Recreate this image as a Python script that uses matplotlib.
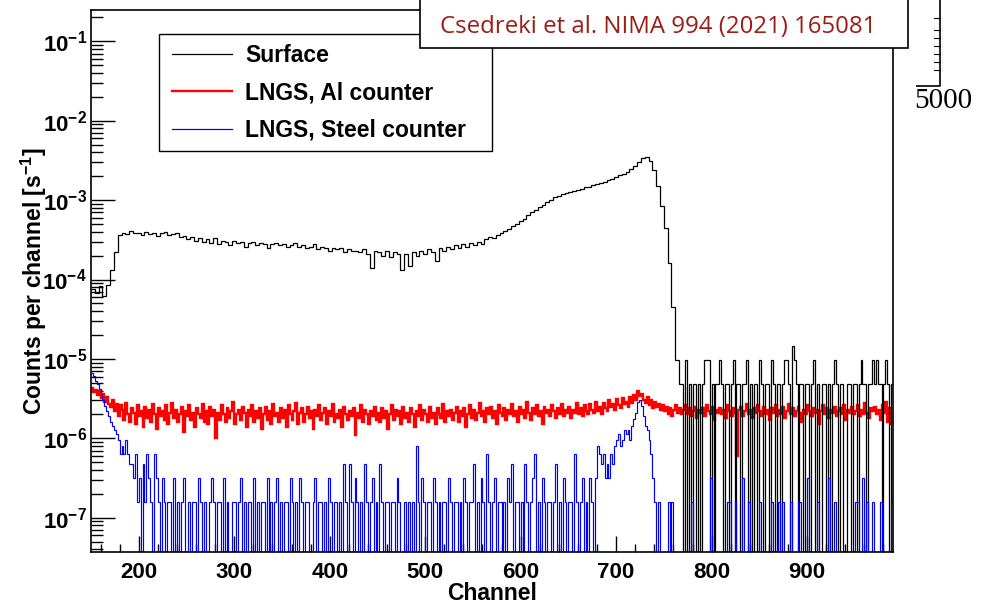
import numpy as np
import matplotlib
matplotlib.use('Agg')
import matplotlib.pyplot as plt
from matplotlib.lines import Line2D
from matplotlib.patches import Rectangle
from matplotlib.ticker import FixedLocator, FuncFormatter, LogLocator, MultipleLocator, NullFormatter

# channel range and binning
ch_start, ch_stop = 150, 990
tail_start = 770

# Surface spectrum, counts per channel [1e-4 s^-1], 4-channel bins from 150 to 770
surface_main = np.array([
    0.75, 0.68, 0.82, 0.62, 0.85, 1.3, 2.2, 3.6, 3.9, 3.7,
    4.1, 3.8, 3.9, 3.6, 4.0, 3.7, 3.9, 3.5, 3.8, 4.0,
    3.6, 3.7, 3.9, 3.4, 3.5, 3.2, 3.4, 3.1, 3.3, 3.0,
    3.2, 2.9, 3.3, 2.8, 3.1, 3.0, 2.7, 3.1, 2.9, 3.0,
    2.6, 2.9, 3.0, 2.7, 2.9, 2.8, 2.5, 2.8, 2.9, 2.7,
    2.8, 2.6, 2.7, 2.9, 2.6, 2.7, 2.5, 2.6, 2.8, 2.4,
    2.6, 2.5, 2.3, 2.5, 2.4, 2.5, 2.2, 2.4, 2.3, 2.3,
    2.2, 2.4, 2.1, 1.4, 2.3, 2.2, 2.0, 2.3, 1.9, 2.2,
    2.1, 1.3, 2.1, 1.5, 2.2, 2.0, 2.3, 2.1, 2.4, 2.2,
    1.7, 2.5, 2.3, 2.6, 2.4, 2.7, 2.5, 2.8, 2.6, 2.9,
    2.7, 3.0, 2.8, 3.2, 3.4, 3.3, 3.6, 3.8, 4.1, 4.3,
    4.7, 5.0, 5.4, 5.8, 6.5, 7.0, 7.6, 8.3, 8.8, 9.4,
    10.0, 10.8, 11.3, 12.0, 12.4, 12.8, 13.2, 13.6, 14.0, 14.5,
    14.8, 15.4, 15.8, 16.4, 17.0, 17.8, 18.6, 19.5, 20.5, 21.6,
    22.8, 24.5, 27.0, 30.5, 34.0, 35.0, 31.0, 24.0, 15.0, 8.5,
    4.5, 1.6, 0.45, 0.097, 0.0485])

# Surface above the edge: raw counts, 2-channel bins from 770 to 990
surface_tail_counts = np.array([
    0, 2, 0, 1, 0, 1, 1, 0, 1, 0,
    1, 2, 2, 2, 0, 1, 0, 1, 1, 2,
    1, 0, 1, 1, 0, 1, 2, 0, 1, 1,
    0, 1, 1, 2, 0, 1, 0, 1, 1, 0,
    2, 1, 0, 1, 1, 0, 2, 1, 0, 1,
    1, 0, 1, 2, 2, 1, 0, 3, 2, 1,
    0, 1, 1, 0, 1, 1, 0, 1, 2, 0,
    1, 0, 0, 1, 1, 0, 1, 0, 1, 2,
    1, 0, 1, 1, 0, 0, 1, 1, 0, 1,
    1, 0, 1, 2, 1, 1, 0, 1, 1, 2,
    1, 2, 1, 1, 0, 1, 2, 1, 0, 1])
surface_rate_per_count = 4.85e-6

# LNGS, Al counter [1e-6 s^-1], 2-channel bins from 150 to 990
al_counter = np.array([
    4.3, 3.8, 4.1, 3.5, 3.9, 3.2, 3.6, 2.9, 3.3, 2.7,
    2.5, 3.0, 2.2, 2.7, 1.9, 2.6, 2.3, 1.7, 2.8, 2.0,
    1.6, 2.4, 2.1, 1.5, 2.6, 1.9, 2.2, 1.4, 2.5, 1.8,
    2.3, 1.6, 2.7, 2.0, 1.3, 2.4, 1.9, 2.2, 1.7, 2.6,
    1.5, 2.1, 2.8, 1.8, 2.3, 1.6, 2.0, 2.5, 1.2, 2.2,
    1.9, 2.6, 1.7, 2.1, 1.4, 2.4, 2.0, 1.8, 2.7, 1.6,
    2.2, 1.5, 2.5, 1.9, 2.3, 1.0, 2.1, 1.7, 2.6, 2.0,
    1.6, 2.4, 1.8, 2.2, 2.9, 1.5, 2.0, 2.3, 1.7, 2.5,
    2.1, 1.4, 2.3, 1.9, 2.6, 1.6, 2.2, 1.8, 2.4, 1.3,
    2.0, 2.5, 1.7, 2.2, 1.5, 2.7, 1.9, 2.1, 1.6, 2.4,
    1.8, 2.3, 1.4, 2.6, 2.0, 1.7, 2.2, 2.8, 1.5, 2.1,
    2.4, 1.6, 2.0, 2.5, 1.8, 2.2, 1.3, 2.3, 1.9, 2.6,
    1.7, 2.1, 2.4, 1.5, 2.2, 1.9, 2.7, 1.6, 2.0, 1.8,
    2.3, 1.4, 2.5, 2.0, 1.7, 2.2, 1.9, 2.4, 1.1, 2.1,
    1.8, 2.6, 1.6, 2.3, 2.0, 1.5, 2.2, 1.9, 2.5, 1.7,
    2.1, 1.6, 2.4, 1.8, 2.2, 1.3, 2.0, 2.6, 1.7, 2.3,
    1.9, 2.2, 1.5, 2.5, 1.8, 2.1, 1.6, 2.4, 2.0, 1.4,
    2.2, 1.9, 2.6, 1.7, 2.3, 2.0, 1.6, 2.5, 1.8, 2.1,
    1.5, 2.4, 2.0, 1.8, 2.7, 1.6, 2.2, 1.9, 2.3, 1.7,
    2.1, 2.5, 1.6, 2.2, 1.9, 2.4, 1.4, 2.0, 2.6, 1.8,
    2.3, 1.7, 2.1, 2.8, 1.9, 2.2, 1.6, 2.4, 2.0, 2.5,
    1.8, 2.2, 1.5, 2.6, 2.1, 1.9, 2.4, 1.7, 2.3, 2.0,
    2.7, 1.9, 2.2, 1.6, 2.5, 2.0, 2.3, 1.8, 2.9, 2.1,
    1.7, 2.4, 2.0, 2.6, 1.9, 2.2, 1.5, 2.5, 2.1, 2.3,
    1.9, 2.6, 2.2, 1.8, 2.4, 2.0, 2.7, 1.9, 2.3, 2.1,
    2.5, 1.8, 2.3, 2.1, 2.8, 2.0, 2.4, 1.9, 2.6, 2.2,
    2.0, 2.7, 2.3, 2.1, 2.9, 2.2, 2.5, 2.0, 2.8, 2.4,
    2.2, 3.0, 2.5, 2.7, 2.3, 3.1, 2.6, 2.4, 3.2, 2.7,
    2.9, 2.5, 3.3, 2.8, 3.5, 3.0, 3.9, 3.4, 3.6, 3.0,
    2.8, 3.3, 2.6, 3.0, 2.4, 2.9, 2.5, 2.7, 2.3, 2.6,
    2.2, 2.5, 2.0, 2.4, 1.9, 2.3, 2.6, 2.1, 2.4, 2.0,
    2.3, 2.6, 2.0, 2.4, 1.9, 2.2, 2.5, 1.8, 2.3, 2.1,
    2.4, 1.9, 2.6, 2.2, 2.0, 2.5, 1.7, 2.3, 2.1, 2.4,
    2.0, 2.3, 1.8, 2.6, 2.2, 1.9, 2.4, 2.1, 0.6, 2.3,
    2.5, 1.9, 2.2, 2.7, 2.0, 2.3, 1.8, 2.4, 2.1, 2.6,
    2.2, 1.9, 2.5, 2.0, 2.3, 1.7, 2.4, 2.1, 2.6, 1.9,
    2.3, 2.0, 2.5, 1.8, 2.2, 2.7, 2.0, 2.4, 1.9, 2.2,
    2.5, 2.1, 1.6, 2.3, 2.0, 2.6, 2.2, 1.9, 2.4, 2.1,
    2.3, 1.5, 2.2, 2.6, 2.0, 2.4, 1.8, 2.3, 2.1, 2.5,
    1.9, 2.2, 2.4, 2.0, 2.6, 1.7, 2.3, 2.1, 2.5, 2.0,
    2.2, 2.6, 1.9, 2.3, 2.0, 2.8, 2.1, 1.8, 2.4, 2.2,
    2.5, 2.0, 2.3, 1.7, 2.6, 2.1, 2.9, 1.6, 2.4, 1.5])

# LNGS, Steel counter: raw counts, 2-channel bins from 150 to 990
steel_counts = np.array([
    42, 38, 33, 30, 26, 22, 19, 16, 14, 12, 10, 9, 8, 7, 6, 4, 5, 4, 6, 4, 3, 3,
    2, 4, 1, 2, 0, 3, 1, 4, 2, 1, 0, 4, 2,
    1, 0, 2, 1, 0, 1, 1, 0, 2, 0,
    1, 0, 1, 2, 0, 0, 1, 0, 1, 1,
    0, 2, 1, 0, 1, 0, 0, 1, 2, 1,
    0, 1, 1, 0, 2, 0, 1, 0, 0, 1,
    1, 0, 1, 2, 0, 1, 0, 1, 1, 0,
    2, 0, 1, 0, 1, 1, 0, 2, 0, 1,
    0, 1, 2, 0, 1, 0, 1, 1, 0, 2,
    1, 0, 1, 0, 2, 1, 0, 1, 1, 0,
    0, 1, 2, 0, 1, 1, 0, 1, 0, 2,
    1, 0, 1, 1, 0, 1, 0, 3, 1, 0,
    3, 1, 0, 2, 1, 0, 1, 0, 3, 1,
    0, 1, 2, 0, 1, 0, 3, 1, 0, 1,
    1, 0, 1, 1, 0, 2, 1, 0, 0, 1,
    0, 1, 0, 1, 0, 5, 1, 0, 2, 1,
    0, 1, 1, 0, 2, 1, 0, 1, 0, 1,
    1, 0, 2, 1, 0, 1, 1, 0, 1, 0,
    2, 1, 0, 1, 1, 3, 0, 1, 0, 2,
    1, 0, 4, 1, 0, 1, 2, 0, 1, 1,
    0, 1, 0, 2, 1, 3, 0, 1, 1, 0,
    1, 0, 3, 1, 0, 1, 2, 4, 0, 1,
    0, 2, 1, 0, 1, 1, 0, 1, 3, 0,
    1, 0, 2, 1, 0, 1, 1, 0, 4, 1,
    0, 1, 2, 0, 1, 0, 2, 1, 0, 2,
    5, 4, 3, 4, 2, 3, 2, 4, 3, 5,
    6, 7, 5, 6, 8, 7, 8, 6, 9, 11,
    13, 18, 19, 16, 12, 9, 8, 6, 4, 2,
    1, 0, 1, 0, 0, 0, 0, 1, 0, 1,
    0, 0, 0, 0, 0,
    0, 0, 0, 0, 1, 0, 0, 0, 0, 0,
    0, 0, 0, 0, 2, 0, 0, 0, 0, 0,
    0, 0, 0, 1, 1, 0, 0, 1, 0, 0,
    0, 2, 0, 0, 1, 0, 0, 0, 0, 0,
    1, 0, 0, 0, 0, 0, 1, 0, 0, 0,
    1, 0, 1, 0, 0, 0, 1, 0, 0, 0,
    1, 1, 0, 0, 0, 2, 0, 0, 0, 0,
    1, 0, 0, 0, 0, 0, 2, 0, 0, 1,
    0, 0, 0, 0, 0, 0, 0, 0, 0, 0,
    1, 1, 0, 0, 2, 0, 1, 0, 0, 1,
    0, 0, 0, 1, 0, 0, 0, 0, 0, 1])
steel_rate_per_count = 1.6e-7

labels = ['Surface', 'LNGS, Al counter', 'LNGS, Steel counter']
colors = ['black', '#ff0000', '#0000ff']
citation = 'Csedreki et al. NIMA 994 (2021) 165081'

plt.rcParams['font.family'] = ['Liberation Sans', 'DejaVu Sans']
plt.rcParams['font.weight'] = 'bold'
plt.rcParams['mathtext.fontset'] = 'custom'
plt.rcParams['mathtext.rm'] = 'Liberation Sans:bold'
plt.rcParams['mathtext.bf'] = 'Liberation Sans:bold'
plt.rcParams['mathtext.it'] = 'Liberation Sans:bold'
plt.rcParams['mathtext.default'] = 'rm'

edges2 = np.arange(ch_start, ch_stop + 1, 2)
surf_edges = np.concatenate([np.arange(ch_start, tail_start + 1, 4),
                             np.arange(tail_start + 2, ch_stop + 1, 2)])
surface = np.concatenate([surface_main * 1e-4, surface_tail_counts * surface_rate_per_count])
al = al_counter * 1e-6
steel = steel_counts * steel_rate_per_count

# empty bins drop to the bottom of the log axis like in ROOT
floor = 1e-10
surface_d = np.where(surface > 0, surface, floor)
steel_d = np.where(steel > 0, steel, floor)

fig = plt.figure(figsize=(9.94, 6.08), dpi=100)
ax = fig.add_axes([91 / 994, 56 / 608, 802 / 994, 542 / 608])
ax.set_yscale('log')

ax.stairs(al, edges2, baseline=None, color=colors[1], lw=1.7, zorder=2)
ax.stairs(surface_d, surf_edges, baseline=None, color=colors[0], lw=0.9, zorder=2.1)
ax.stairs(steel_d, edges2, baseline=None, color=colors[2], lw=0.85, zorder=2.2)

ax.set_xlim(ch_start, ch_stop)
ax.set_ylim(3.7e-8, 0.248)

ax.xaxis.set_major_locator(FixedLocator(np.arange(200, 901, 100)))
ax.xaxis.set_minor_locator(MultipleLocator(20))
ax.yaxis.set_major_locator(FixedLocator(10.0 ** np.arange(-7, 0)))
ax.yaxis.set_minor_locator(LogLocator(base=10, subs=np.arange(2, 10), numticks=50))
ax.yaxis.set_minor_formatter(NullFormatter())
ax.yaxis.set_major_formatter(FuncFormatter(lambda v, p: r'$10^{%d}$' % round(np.log10(v))))
ax.tick_params(axis='x', which='major', direction='in', length=11.5, width=1, labelsize=16, pad=7)
ax.tick_params(axis='x', which='minor', direction='in', length=5.8, width=1)
ax.tick_params(axis='y', which='major', direction='in', length=17.3, width=1, labelsize=16, pad=3)
ax.tick_params(axis='y', which='minor', direction='in', length=8.6, width=1)
for lab in ax.get_xticklabels():
    lab.set_fontweight('bold')
for sp in ax.spines.values():
    sp.set_linewidth(1.2)

fig.text(492 / 994, 1 - 594 / 608, 'Channel', ha='center', va='center', fontsize=16.5, fontweight='bold')
fig.text(34 / 994, 1 - 281 / 608, 'Counts per channel [s$^{-1}$]', rotation=90,
         ha='center', va='center', fontsize=16.5, fontweight='bold')

# legend box
ax.add_patch(Rectangle((159 / 994, 1 - 151 / 608), 333 / 994, 117 / 608, transform=fig.transFigure,
                       facecolor='white', edgecolor='black', lw=1.0, zorder=4, clip_on=False))
handles = [Line2D([], [], color=colors[0], lw=0.9),
           Line2D([], [], color=colors[1], lw=1.7),
           Line2D([], [], color=colors[2], lw=0.9)]
leg = ax.legend(handles, labels, loc='upper left', bbox_to_anchor=(172 / 994, 1 - 44 / 608),
                bbox_transform=fig.transFigure, frameon=False, borderpad=0, borderaxespad=0,
                handlelength=2.6, handletextpad=0.6, labelspacing=0.63,
                prop={'size': 16.5, 'weight': 'bold'})
leg.set_zorder(5)

# citation box
fig.add_artist(Rectangle((420 / 994, 1 - 48 / 608), 488 / 994, 60 / 608, transform=fig.transFigure,
                         facecolor='white', edgecolor='black', lw=1.2, zorder=1))
fig.text(658 / 994, 1 - 27 / 608, citation, ha='center', va='center', color='#9a1d16',
         fontsize=17.3, family='Open Sans', fontweight='normal')

# cropped fragment of a neighbouring figure on the right
frag = fig.add_axes([916 / 994, 1 - 118 / 608, 78 / 994, 118 / 608])
frag.set_xlim(916, 994)
frag.set_ylim(118, 0)
frag.set_axis_off()
frag.plot([940, 940, 916], [0, 86, 86], color='black', lw=1.2)
for ty in [18, 30, 38, 46, 54, 62, 70]:
    frag.plot([934, 940], [ty, ty], color='black', lw=0.8)
frag.text(943, 101, '5000', ha='center', va='center', family='Liberation Serif',
          fontweight='normal', fontsize=21, clip_on=True)

fig.savefig('out.png', dpi=100)
